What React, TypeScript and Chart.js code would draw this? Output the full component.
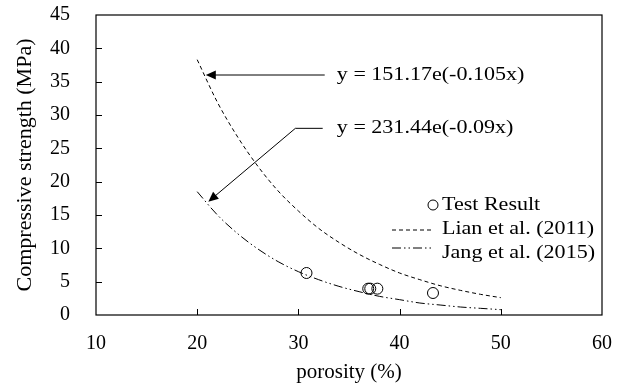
import React, { useEffect, useRef } from "react";
import { Chart, registerables } from "chart.js";

Chart.register(...registerables);

// ---- data ----
const curvePorosity = [20, 22, 24, 26, 28, 30, 32, 34, 36, 38, 40, 42, 44, 46, 48, 50];
const lianStrength = [38.3, 31.9, 26.7, 22.3, 18.6, 15.6, 13.0, 10.9, 9.1, 7.6, 6.3, 5.3, 4.4, 3.7, 3.1, 2.6];
const jangStrength = [18.5, 15.0, 12.2, 9.9, 8.0, 6.5, 5.3, 4.3, 3.5, 2.8, 2.3, 1.8, 1.5, 1.2, 1.0, 0.8];
const testPorosity = [30.8, 36.9, 37.1, 37.8, 43.3];
const testStrength = [6.3, 3.95, 3.95, 3.95, 3.3];
const xTicks = [10, 20, 30, 40, 50, 60];
const yTicks = [0, 5, 10, 15, 20, 25, 30, 35, 40, 45];
const legendLabels = ["Test Result", "Lian et al. (2011)", "Jang et al. (2015)"];
const eq1Text = "y = 151.17e(-0.105x)";
const eq2Text = "y = 231.44e(-0.09x)";
// annotation anchor points (data coordinates)
const eq1Tip = { x: 20.85, y: 36 };
const eq1Tail = { x: 32.6, y: 36 };
const eq2Tip = { x: 21.1, y: 17.0 };
const eq2Elbow = { x: 29.7, y: 28.0 };
const eq2Tail = { x: 32.4, y: 28.0 };
const eqTextX = 33.8;

const FONT = "'Liberation Serif', 'Times New Roman', serif";
const DASH = [4, 3];
const DASHDOT = [9, 3, 1.5, 3, 1.5, 3];
const TEXT_SX = 1.16;

function arrowHead(ctx: CanvasRenderingContext2D, fx: number, fy: number, tx: number, ty: number) {
  const ang = Math.atan2(ty - fy, tx - fx);
  const len = 10;
  const w = 4.5;
  ctx.beginPath();
  ctx.moveTo(tx, ty);
  ctx.lineTo(tx - len * Math.cos(ang) + w * Math.sin(ang), ty - len * Math.sin(ang) - w * Math.cos(ang));
  ctx.lineTo(tx - len * Math.cos(ang) - w * Math.sin(ang), ty - len * Math.sin(ang) + w * Math.cos(ang));
  ctx.closePath();
  ctx.fill();
}

function wideText(ctx: CanvasRenderingContext2D, t: string, x: number, y: number) {
  ctx.save();
  ctx.translate(x, y);
  ctx.scale(TEXT_SX, 1);
  ctx.fillText(t, 0, 0);
  ctx.restore();
}

const decorPlugin = {
  id: "decor",
  afterDatasetsDraw(chart: any) {
    const ctx = chart.ctx as CanvasRenderingContext2D;
    const a = chart.chartArea;
    const xs = chart.scales.x;
    const ys = chart.scales.y;
    ctx.save();
    ctx.strokeStyle = "#000";
    ctx.fillStyle = "#000";
    ctx.lineWidth = 1.2;
    ctx.setLineDash([]);
    // frame
    ctx.strokeRect(a.left, a.top, a.right - a.left, a.bottom - a.top);
    // inward ticks
    ctx.lineWidth = 1;
    xTicks.slice(1, -1).forEach((v) => {
      const px = Math.round(xs.getPixelForValue(v)) + 0.5;
      ctx.beginPath();
      ctx.moveTo(px, a.bottom);
      ctx.lineTo(px, a.bottom - 6);
      ctx.stroke();
    });
    yTicks.slice(1, -1).forEach((v) => {
      const py = Math.round(ys.getPixelForValue(v)) + 0.5;
      ctx.beginPath();
      ctx.moveTo(a.left, py);
      ctx.lineTo(a.left + 6, py);
      ctx.stroke();
    });
    // annotations
    const P = (p: { x: number; y: number }) => [xs.getPixelForValue(p.x), ys.getPixelForValue(p.y)];
    const [t1x, t1y] = P(eq1Tip);
    const [s1x, s1y] = P(eq1Tail);
    ctx.beginPath();
    ctx.moveTo(s1x, s1y);
    ctx.lineTo(t1x + 6, t1y);
    ctx.stroke();
    arrowHead(ctx, s1x, s1y, t1x, t1y);
    const [t2x, t2y] = P(eq2Tip);
    const [e2x, e2y] = P(eq2Elbow);
    const [s2x, s2y] = P(eq2Tail);
    ctx.beginPath();
    ctx.moveTo(s2x, s2y);
    ctx.lineTo(e2x, e2y);
    ctx.lineTo(t2x + 4, t2y - 3.4);
    ctx.stroke();
    arrowHead(ctx, e2x, e2y, t2x, t2y);
    ctx.font = `19px ${FONT}`;
    ctx.textBaseline = "middle";
    ctx.textAlign = "left";
    wideText(ctx, eq1Text, xs.getPixelForValue(eqTextX), s1y);
    wideText(ctx, eq2Text, xs.getPixelForValue(eqTextX), s2y);
    // legend
    const lx0 = a.right - 210;
    const lx1 = a.right - 169;
    const tx = a.right - 160;
    const rows = [a.top + 190, a.top + 214, a.top + 238];
    ctx.beginPath();
    ctx.arc(lx1, rows[0], 5, 0, Math.PI * 2);
    ctx.fillStyle = "#fff";
    ctx.fill();
    ctx.stroke();
    ctx.fillStyle = "#000";
    ctx.setLineDash(DASH);
    ctx.beginPath();
    ctx.moveTo(lx0, rows[1] + 1);
    ctx.lineTo(lx1, rows[1] + 1);
    ctx.stroke();
    ctx.setLineDash(DASHDOT);
    ctx.beginPath();
    ctx.moveTo(lx0, rows[2] - 5);
    ctx.lineTo(lx1, rows[2] - 5);
    ctx.stroke();
    ctx.setLineDash([]);
    legendLabels.forEach((t, i) => wideText(ctx, t, tx, rows[i]));
    ctx.restore();
  },
};

export default function App() {
  const ref = useRef<HTMLCanvasElement>(null);
  useEffect(() => {
    if (!ref.current) return;
    const chart = new Chart(ref.current, {
      type: "scatter",
      data: {
        datasets: [
          {
            label: "Test Result",
            data: testPorosity.map((x, i) => ({ x, y: testStrength[i] })),
            pointStyle: "circle",
            pointRadius: 5.5,
            pointBorderWidth: 1,
            pointBorderColor: "#000",
            pointBackgroundColor: "rgba(255,255,255,0)",
            showLine: false,
            order: 0,
          },
          {
            label: "Lian et al. (2011)",
            data: curvePorosity.map((x, i) => ({ x, y: lianStrength[i] })),
            showLine: true,
            pointRadius: 0,
            borderColor: "#000",
            borderWidth: 1,
            borderDash: DASH,
            cubicInterpolationMode: "monotone",
            order: 1,
          },
          {
            label: "Jang et al. (2015)",
            data: curvePorosity.map((x, i) => ({ x, y: jangStrength[i] })),
            showLine: true,
            pointRadius: 0,
            borderColor: "#000",
            borderWidth: 1,
            borderDash: DASHDOT,
            cubicInterpolationMode: "monotone",
            order: 2,
          },
        ],
      },
      options: {
        animation: false,
        responsive: false,
        maintainAspectRatio: false,
        layout: { padding: { left: 0, top: 15, right: 24, bottom: 0 } },
        plugins: { legend: { display: false }, tooltip: { enabled: false } },
        scales: {
          x: {
            type: "linear",
            min: 10,
            max: 60,
            afterBuildTicks: (s: any) => {
              s.ticks = xTicks.map((v) => ({ value: v }));
            },
            afterFit: (s: any) => {
              s.height = 70;
              s.paddingLeft = 0;
              s.paddingRight = 0;
            },
            grid: { display: false, drawTicks: false },
            border: { display: false },
            ticks: { color: "#000", font: { family: FONT, size: 20 }, padding: 17, maxRotation: 0 },
            title: {
              display: true,
              text: "porosity (%)",
              color: "#000",
              font: { family: FONT, size: 21 },
              padding: { top: 8, bottom: 0 },
            },
          },
          y: {
            type: "linear",
            min: 0,
            max: 45,
            afterBuildTicks: (s: any) => {
              s.ticks = yTicks.map((v) => ({ value: v }));
            },
            afterFit: (s: any) => {
              s.width = 96;
              s.paddingTop = 0;
              s.paddingBottom = 0;
            },
            grid: { display: false, drawTicks: false },
            border: { display: false },
            ticks: { color: "#000", font: { family: FONT, size: 20 }, padding: 26 },
            title: {
              display: true,
              text: "Compressive strength (MPa)",
              color: "#000",
              font: { family: FONT, size: 22 },
              padding: { top: 12, bottom: 0 },
            },
          },
        },
      },
      plugins: [decorPlugin],
    } as any);
    return () => chart.destroy();
  }, []);
  return (
    <div style={{ position: "absolute", left: 0, top: 0, width: 626, height: 385, background: "#fff" }}>
      <canvas ref={ref} width={626} height={385} style={{ width: 626, height: 385 }} />
    </div>
  );
}
